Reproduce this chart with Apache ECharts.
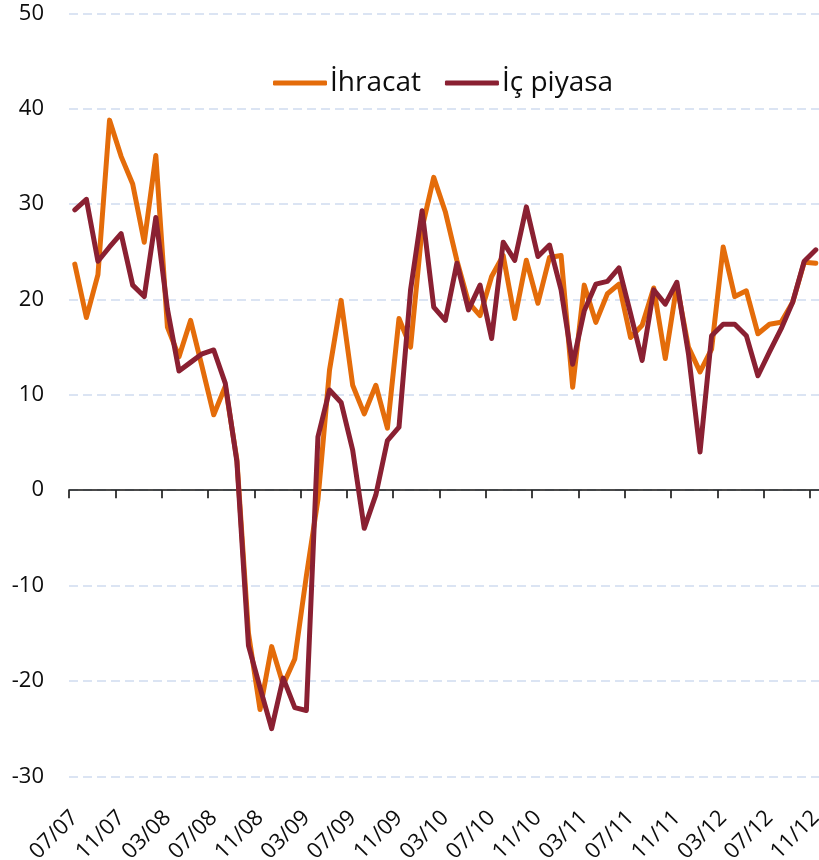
<!DOCTYPE html>
<html>
<head>
<meta charset="utf-8">
<title>İhracat ve İç piyasa</title>
<script src="https://cdn.jsdelivr.net/npm/echarts@6/dist/echarts.min.js"></script>
<style>
  html, body { margin: 0; padding: 0; background: #ffffff; }
  #chart { width: 819px; height: 860px; }
</style>
</head>
<body>
<div id="chart"></div>
<script>
// Monthly categories, 07/2007 – 11/2012
const months = [
  '07/07','08/07','09/07','10/07','11/07','12/07',
  '01/08','02/08','03/08','04/08','05/08','06/08','07/08','08/08','09/08','10/08','11/08','12/08',
  '01/09','02/09','03/09','04/09','05/09','06/09','07/09','08/09','09/09','10/09','11/09','12/09',
  '01/10','02/10','03/10','04/10','05/10','06/10','07/10','08/10','09/10','10/10','11/10','12/10',
  '01/11','02/11','03/11','04/11','05/11','06/11','07/11','08/11','09/11','10/11','11/11','12/11',
  '01/12','02/12','03/12','04/12','05/12','06/12','07/12','08/12','09/12','10/12','11/12'
];

// İhracat
const ihracat = [
  23.7, 18.1, 22.6, 38.8, 35.0, 32.1,
  26.0, 35.1, 17.1, 14.0, 17.8, 12.9, 7.9, 10.9, 3.2, -15.0, -23.0, -16.4,
  -20.4, -17.7, -9.0, -1.0, 12.6, 19.9, 11.0, 8.0, 11.0, 6.5, 18.0, 15.0,
  27.5, 32.8, 29.2, 24.1, 19.7, 18.3, 22.4, 24.6, 18.0, 24.1, 19.6, 24.4,
  24.6, 10.8, 21.5, 17.6, 20.6, 21.6, 16.0, 17.3, 21.2, 13.8, 21.5, 15.0,
  12.4, 14.8, 25.5, 20.3, 20.9, 16.4, 17.4, 17.6, 19.7, 23.9, 23.8
];

// İç piyasa
const icPiyasa = [
  29.4, 30.5, 24.0, 25.5, 26.9, 21.5,
  20.3, 28.6, 19.0, 12.5, 13.4, 14.3, 14.7, 11.2, 3.0, -16.3, -20.7, -25.0,
  -19.7, -22.8, -23.1, 5.6, 10.5, 9.2, 4.2, -4.0, -0.5, 5.2, 6.6, 21.0,
  29.3, 19.2, 17.8, 23.8, 18.9, 21.5, 15.9, 26.0, 24.1, 29.7, 24.5, 25.7,
  21.0, 13.2, 18.8, 21.6, 21.9, 23.3, 18.5, 13.6, 21.0, 19.5, 21.8, 14.3,
  4.0, 16.2, 17.4, 17.4, 16.2, 12.0, 14.5, 16.9, 19.7, 24.0, 25.2
];

const seriesNames = ['İhracat', 'İç piyasa'];
const seriesColors = ['#E46C0A', '#8A2032'];

const FONT = '"Open Sans", "Noto Sans", sans-serif';

const chart = echarts.init(document.getElementById('chart'), null, { renderer: 'canvas' });

chart.setOption({
  animation: false,
  backgroundColor: '#ffffff',
  grid: {
    left: 69, top: 13.3, width: 752.6, height: 763,
    containLabel: false,
    outerBoundsMode: 'none'
  },
  legend: {
    data: seriesNames,
    left: 268,
    top: 64,
    icon: 'roundRect',
    itemWidth: 54,
    itemHeight: 5,
    itemGap: 24,
    textStyle: { fontFamily: FONT, fontSize: 28, color: '#0d0d0d', padding: [0, 0, 0, -2] }
  },
  xAxis: [
    {
      // labels along the bottom edge
      type: 'category',
      data: months,
      position: 'bottom',
      boundaryGap: true,
      axisLine: { show: false, onZero: false },
      axisTick: { show: false },
      splitLine: { show: false },
      axisLabel: {
        interval: 3,
        rotate: 45,
        margin: 38,
        fontFamily: FONT,
        fontSize: 22,
        color: '#0d0d0d',
        hideOverlap: false
      }
    },
    {
      // axis line and ticks crossing at zero
      type: 'category',
      data: months,
      position: 'top',
      boundaryGap: true,
      axisLine: { show: true, onZero: true, onZeroAxisIndex: 0, lineStyle: { color: '#111', width: 1.6 } },
      axisTick: { show: true, inside: true, interval: 3, length: 8, lineStyle: { color: '#111', width: 1.6 } },
      axisLabel: { show: false },
      splitLine: { show: false }
    }
  ],
  yAxis: {
    type: 'value',
    min: -30,
    max: 50,
    interval: 10,
    axisLine: { show: false },
    axisTick: { show: false },
    axisLabel: { margin: 25, fontFamily: FONT, fontSize: 22, color: '#0d0d0d' },
    splitLine: { show: true, lineStyle: { color: '#CFDBF0', width: 1.5, type: [9, 5] } }
  },
  series: [
    {
      name: seriesNames[0],
      type: 'line',
      xAxisIndex: 0,
      data: ihracat,
      symbol: 'none',
      color: seriesColors[0],
      lineStyle: { width: 5, color: seriesColors[0], cap: 'round', join: 'round' }
    },
    {
      name: seriesNames[1],
      type: 'line',
      xAxisIndex: 0,
      data: icPiyasa,
      symbol: 'none',
      color: seriesColors[1],
      lineStyle: { width: 5, color: seriesColors[1], cap: 'round', join: 'round' }
    }
  ]
});
</script>
</body>
</html>
